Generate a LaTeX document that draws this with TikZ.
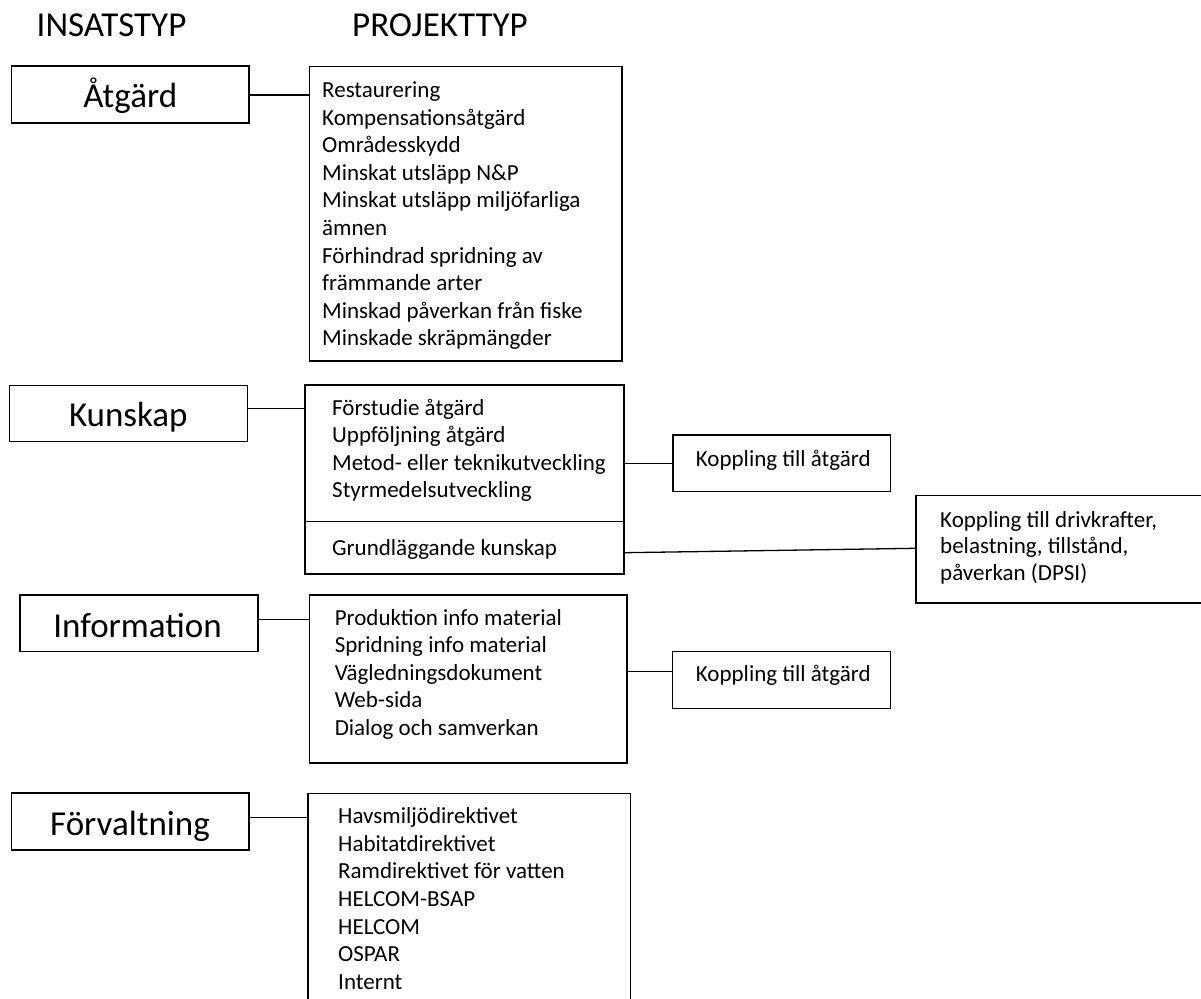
\documentclass[tikz,border=0pt]{standalone}
\usepackage{fontspec}
\setmainfont{Carlito}
\tikzset{
  frame/.style={draw=black, line width=1.3pt, rectangle, inner sep=0pt},
  lab/.style={font=\fontsize{35}{41}\selectfont, inner sep=0pt, anchor=base},
  head/.style={font=\fontsize{35}{41}\selectfont, inner sep=0pt, anchor=base west},
  item/.style={font=\fontsize{23}{27.6}\selectfont, inner sep=0pt, anchor=base west},
  conn/.style={line width=1.3pt}
}
\begin{document}
\begin{tikzpicture}[x=1pt,y=-1pt]
\clip (0,0) rectangle (1201,998);
\fill[white] (0,0) rectangle (1201,998);

% headers
\node[head] (hIns) at (36.5,36.7) {INSATSTYP};
\node[head] (hPro) at (352,36.7) {PROJEKTTYP};

% left boxes
\node[frame, minimum width=237.6pt, minimum height=57pt] (atg) at (130.2,94.5) {};
\node[lab] (atgL) at (130.2,107) {Åtgärd};
\node[frame, minimum width=238pt, minimum height=56pt] (kun) at (128.3,413.7) {};
\node[lab] (kunL) at (128.3,426.7) {Kunskap};
\node[frame, minimum width=238pt, minimum height=56.7pt] (inf) at (139,623.4) {};
\node[lab] (infL) at (137.5,637) {Information};
\node[frame, minimum width=237.2pt, minimum height=57pt] (forv) at (130.4,821.5) {};
\node[lab] (forvL) at (130,835) {Förvaltning};

% list boxes
\node[frame, minimum width=312.5pt, minimum height=294.3pt] (atgList) at (465.8,213.9) {};
\node[frame, minimum width=319pt, minimum height=189pt] (kunList) at (464.5,479.5) {};
\node[frame, minimum width=317.7pt, minimum height=168pt] (infList) at (468.2,679) {};
\node[frame, minimum width=322.5pt, minimum height=230pt] (forvList) at (469.3,908.3) {};

% right boxes
\node[frame, minimum width=217.7pt, minimum height=56.7pt] (kop1) at (781.7,463.4) {};
\node[item, anchor=base] (kop1L) at (783.3,466) {Koppling till åtgärd};
\node[frame, minimum width=218pt, minimum height=56.6pt] (kop2) at (781.7,680) {};
\node[item, anchor=base] (kop2L) at (783.3,681.7) {Koppling till åtgärd};
\node[frame, minimum width=294pt, minimum height=107.3pt] (dpsi) at (1063,549.4) {};

% list texts
\foreach \t [count=\i] in {Restaurering, Kompensationsåtgärd, Områdesskydd, {Minskat utsläpp N\&P}, {Minskat utsläpp miljöfarliga}, ämnen, {Förhindrad spridning av}, {främmande arter}, {Minskad påverkan från fiske}, {Minskade skräpmängder}}
  \node[item] (a\i) at (322, 97.5+27.6*\i-27.6) {\t};

\foreach \t [count=\i] in {{Förstudie åtgärd}, {Uppföljning åtgärd}, {Metod- eller teknikutveckling}, Styrmedelsutveckling}
  \node[item] (k\i) at (332, 415+27.6*\i-27.6) {\t};
\node[item] (k5) at (332,555) {Grundläggande kunskap};
\draw[conn] (kunList.west |- 0,521.7) -- (kunList.east |- 0,521.7);

\foreach \t [count=\i] in {{Koppling till drivkrafter,}, {belastning, tillstånd,}, {påverkan (DPSI)}}
  \node[item] (d\i) at (940, 527+26.9*\i-26.9) {\t};

\foreach \t [count=\i] in {{Produktion info material}, {Spridning info material}, Vägledningsdokument, Web-sida, {Dialog och samverkan}}
  \node[item] (n\i) at (334.6, 625+27.5*\i-27.5) {\t};

\foreach \t [count=\i] in {Havsmiljödirektivet, Habitatdirektivet, {Ramdirektivet för vatten}, HELCOM-BSAP, HELCOM, OSPAR, Internt}
  \node[item] (f\i) at (338, 823.3+27.7*\i-27.7) {\t};

% connectors
\draw[conn] (atg.east |- 0,95) -- (atgList.west |- 0,95);
\draw[conn] (kun.east |- 0,408.3) -- (kunList.west |- 0,408.3);
\draw[conn] (inf.east |- 0,619.3) -- (infList.west |- 0,619.3);
\draw[conn] (forv.east |- 0,817.7) -- (forvList.west |- 0,817.7);
\draw[conn] (kunList.east |- 0,463.3) -- (kop1.west |- 0,463.3);
\draw[conn] (kunList.east |- 0,552.7) -- (dpsi.west |- 0,548.3);
\draw[conn] (infList.east |- 0,671.7) -- (kop2.west |- 0,671.7);
\end{tikzpicture}
\end{document}
